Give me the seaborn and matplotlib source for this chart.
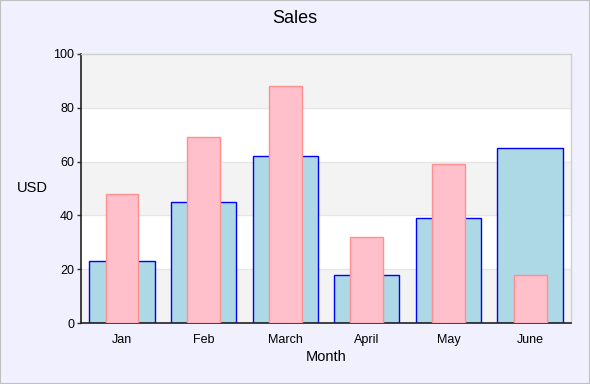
import matplotlib
matplotlib.use("Agg")
import matplotlib.pyplot as plt
import seaborn as sns
import pandas as pd

months = ["Jan", "Feb", "March", "April", "May", "June"]
blue_vals = [23, 45, 62, 18, 39, 65]
pink_vals = [48, 69, 88, 32, 59, 18]

sns.set_theme(style="white")
plt.rcParams['font.family'] = ['Liberation Sans', 'DejaVu Sans']
plt.rcParams['text.color'] = 'black'
plt.rcParams['axes.labelcolor'] = 'black'

df = pd.DataFrame({"Month": months, "A": blue_vals, "B": pink_vals})

fig = plt.figure(figsize=(5.9, 3.84), dpi=100, facecolor="#F0F0FF")
ax = fig.add_axes([81/590, 1 - 323/384, 490/590, 269/384])
ax.set_facecolor("white")

# alternating bands
for lo in range(0, 100, 40):
    ax.axhspan(lo, lo + 20, color="#F3F3F3", zorder=0, lw=0)
ax.axhspan(80, 100, color="#F3F3F3", zorder=0, lw=0)
for y in [20, 40, 60, 80]:
    ax.axhline(y, color="#E6E6E6", lw=1, zorder=0.5)

sns.barplot(data=df, x="Month", y="A", color="lightblue", width=0.8,
            edgecolor="#0000FF", linewidth=1.0, saturation=1, ax=ax, zorder=2)
sns.barplot(data=df, x="Month", y="B", color="pink", width=0.4,
            edgecolor="#FF9090", linewidth=1.0, saturation=1, ax=ax, zorder=3)

ax.set_ylim(0, 100)
ax.set_xlim(-0.5, 5.5)
ax.set_yticks([0, 20, 40, 60, 80, 100])
ax.tick_params(axis="y", left=True, length=3, width=1, color="#333333", labelsize=9, pad=2, labelcolor="black")
ax.tick_params(axis="x", bottom=False, labelsize=9, pad=2, labelcolor="black")
for s in ["top", "right"]:
    ax.spines[s].set_color("#D0D0D0")
    ax.spines[s].set_linewidth(1)
for s in ["left", "bottom"]:
    ax.spines[s].set_color("#222222")
    ax.spines[s].set_linewidth(1.2)

ax.set_xlabel("Month", fontsize=10.5, labelpad=3, color="black")
ax.set_ylabel("USD", fontsize=10.5, rotation=0, va="center", color="black")
ax.yaxis.set_label_coords(-0.1, 0.5)
fig.suptitle("Sales", fontsize=13, y=0.975, color="black")

border = plt.Rectangle((0, 0), 1, 1, transform=fig.transFigure, fill=False,
                       edgecolor="#C0C0C0", lw=1.5)
fig.patches.append(border)

fig.savefig("out.png", dpi=100, facecolor=fig.get_facecolor())
